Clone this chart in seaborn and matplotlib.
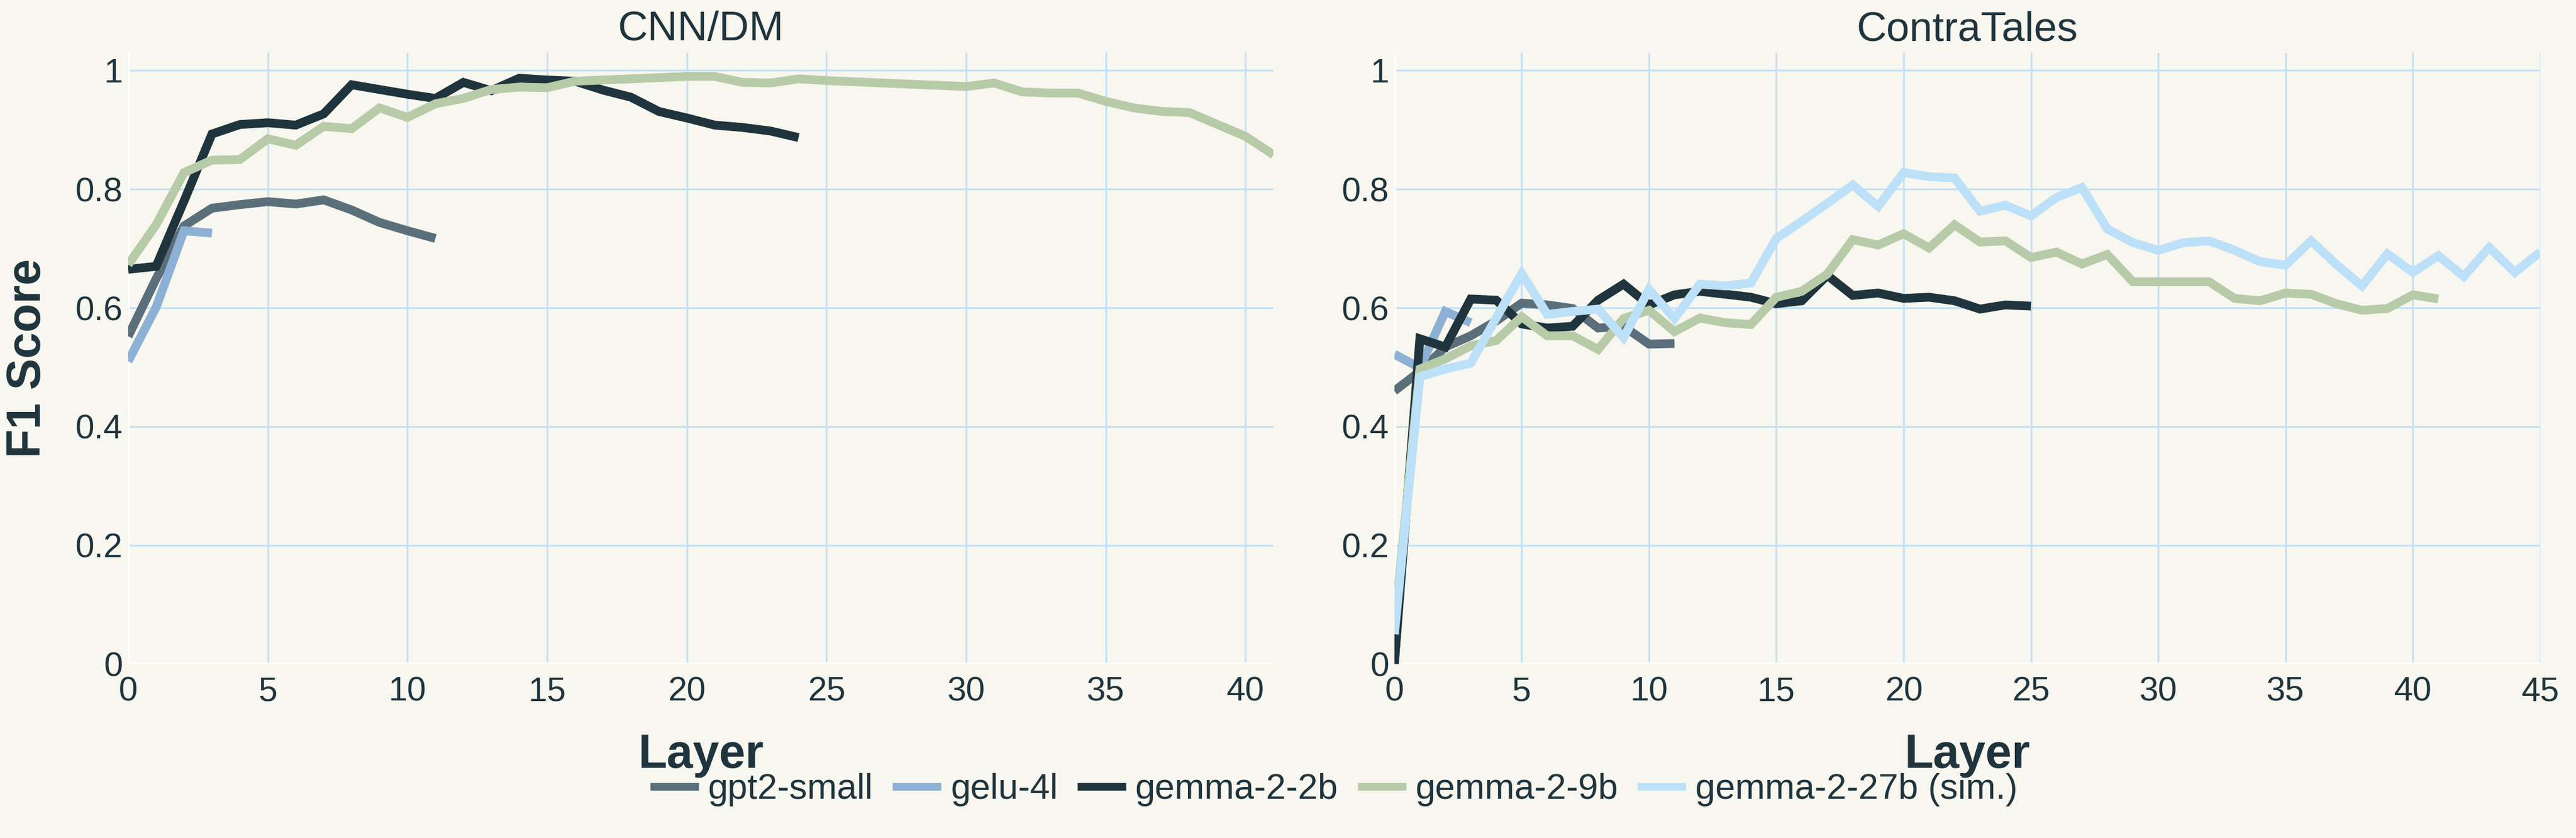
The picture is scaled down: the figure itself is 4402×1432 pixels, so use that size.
import matplotlib
matplotlib.use("Agg")
import matplotlib.pyplot as plt
from matplotlib.lines import Line2D
import matplotlib.ticker as ticker
import seaborn as sns
import pandas as pd

# model names / colours
models = ["gpt2-small", "gelu-4l", "gemma-2-2b", "gemma-2-9b", "gemma-2-27b (sim.)"]
colors = ["#5B6F7B", "#8DB1D5", "#1F343C", "#B8CBA8", "#BDE0F9"]

# CNN/DM, F1 per layer (starting at layer 0)
gpt2_cnn = [0.552, 0.649, 0.738, 0.768, 0.774, 0.779, 0.775, 0.782, 0.765, 0.744, 0.730, 0.717]
gelu_cnn = [0.510, 0.601, 0.730, 0.726]
gemma2b_cnn = [0.665, 0.670, 0.780, 0.893, 0.909, 0.912, 0.908, 0.927, 0.976, 0.968, 0.960, 0.953,
               0.980, 0.966, 0.987, 0.984, 0.982, 0.967, 0.955, 0.931, 0.920, 0.908, 0.904, 0.898, 0.887]
gemma9b_cnn = [0.673, 0.740, 0.828, 0.849, 0.850, 0.885, 0.874, 0.906, 0.902, 0.937, 0.921, 0.944,
               0.953, 0.968, 0.972, 0.971, 0.982, 0.984, 0.986, 0.988, 0.990, 0.990, 0.980, 0.979,
               0.986, 0.983, 0.981, 0.979, 0.977, 0.975, 0.973, 0.979, 0.964, 0.962, 0.962, 0.948,
               0.937, 0.931, 0.929, 0.909, 0.889, 0.858]

# ContraTales, F1 per layer
gpt2_ct = [0.460, 0.493, 0.534, 0.553, 0.578, 0.608, 0.605, 0.599, 0.566, 0.569, 0.539, 0.540]
gelu_ct = [0.522, 0.499, 0.594, 0.575]
gemma2b_ct = [0.0, 0.548, 0.534, 0.615, 0.613, 0.573, 0.566, 0.569, 0.613, 0.640, 0.605, 0.622,
              0.628, 0.623, 0.618, 0.607, 0.612, 0.655, 0.621, 0.625, 0.616, 0.618, 0.612, 0.598,
              0.605, 0.603]
gemma9b_ct = [0.06, 0.497, 0.514, 0.536, 0.545, 0.585, 0.553, 0.553, 0.530, 0.582, 0.596, 0.560,
              0.583, 0.575, 0.572, 0.618, 0.628, 0.657, 0.715, 0.706, 0.725, 0.701, 0.740, 0.711,
              0.713, 0.685, 0.694, 0.674, 0.690, 0.644, 0.644, 0.644, 0.644, 0.616, 0.612, 0.625,
              0.623, 0.607, 0.596, 0.599, 0.622, 0.615]
gemma27b_ct = [0.05, 0.484, 0.497, 0.507, 0.583, 0.658, 0.589, 0.594, 0.598, 0.550, 0.631, 0.582,
               0.640, 0.637, 0.642, 0.717, 0.746, 0.776, 0.807, 0.771, 0.828, 0.821, 0.819, 0.763,
               0.773, 0.755, 0.786, 0.803, 0.733, 0.710, 0.697, 0.710, 0.713, 0.697, 0.678, 0.672,
               0.713, 0.673, 0.637, 0.691, 0.660, 0.688, 0.653, 0.702, 0.660, 0.694]

bg = "#F8F7EF"
textColor = "#1F343C"
gridColor = "#C2E1F8"


def toFrame(seriesDict):
    rows = []
    for name, vals in seriesDict.items():
        for i, v in enumerate(vals):
            rows.append({"Layer": i, "F1": v, "Model": name})
    return pd.DataFrame(rows)


dfCnn = toFrame({"gpt2-small": gpt2_cnn, "gelu-4l": gelu_cnn,
                 "gemma-2-2b": gemma2b_cnn, "gemma-2-9b": gemma9b_cnn})
dfCt = toFrame({"gpt2-small": gpt2_ct, "gelu-4l": gelu_ct, "gemma-2-2b": gemma2b_ct,
                "gemma-2-9b": gemma9b_ct, "gemma-2-27b (sim.)": gemma27b_ct})

sns.set_theme(style="white")
plt.rcParams["font.family"] = ["Liberation Sans", "DejaVu Sans"]
palette = dict(zip(models, colors))

fig = plt.figure(figsize=(44.02, 14.32), dpi=100, facecolor=bg)
axL = fig.add_axes([0.04975, 0.2077, 0.4446, 0.7294])
axR = fig.add_axes([0.5413, 0.2077, 0.4448, 0.7294])


def drawPanel(ax, df, title, xmax, xticks):
    ax.set_facecolor(bg)
    order = [m for m in models if m in df["Model"].unique()]
    sns.lineplot(data=df, x="Layer", y="F1", hue="Model", hue_order=order, palette=palette,
                 ax=ax, linewidth=10.8, legend=False, errorbar=None,
                 solid_capstyle="butt", solid_joinstyle="miter", zorder=3)
    ax.set_xlim(0, xmax)
    ax.set_ylim(0, 1.03)
    ax.set_xticks(xticks)
    ax.set_yticks([0, 0.2, 0.4, 0.6, 0.8, 1])
    ax.yaxis.set_major_formatter(ticker.FuncFormatter(lambda v, p: "{:g}".format(round(v, 2))))
    ax.set_axisbelow(True)
    ax.grid(True, color=gridColor, linewidth=2.2)
    ax.axvline(0, color="white", linewidth=4.2, zorder=1.5)
    ax.axhline(0, color="white", linewidth=4.2, zorder=1.5)
    for s in ax.spines.values():
        s.set_visible(False)
    ax.tick_params(axis="x", length=0, pad=14.8, labelsize=42, colors=textColor)
    ax.tick_params(axis="y", length=0, pad=6.5, labelsize=42, colors=textColor)
    ax.set_title(title, fontsize=51, pad=15, color=textColor)
    ax.set_xlabel("Layer", fontsize=58, fontweight="bold", color=textColor)
    ax.xaxis.label.set_va("baseline")
    ax.xaxis.set_label_coords(0.5, -0.170)
    ax.set_ylabel("")


drawPanel(axL, dfCnn, "CNN/DM", 41, list(range(0, 41, 5)))
drawPanel(axR, dfCt, "ContraTales", 45, list(range(0, 46, 5)))

axL.set_ylabel("F1 Score", fontsize=58, fontweight="bold", color=textColor)
axL.yaxis.label.set_va("baseline")
axL.yaxis.set_label_coords(-0.0764, 0.5)

handles = [Line2D([0], [0], color=c, linewidth=9.5, solid_capstyle="butt") for c in colors]
fig.legend(handles, models, loc="center", bbox_to_anchor=(0.5178, 0.0573), ncol=5,
           frameon=False, fontsize=44, handlelength=1.36, handletextpad=0.26,
           columnspacing=0.54, labelcolor=textColor, borderpad=0)

fig.savefig("out.png", dpi=100, facecolor=bg)
